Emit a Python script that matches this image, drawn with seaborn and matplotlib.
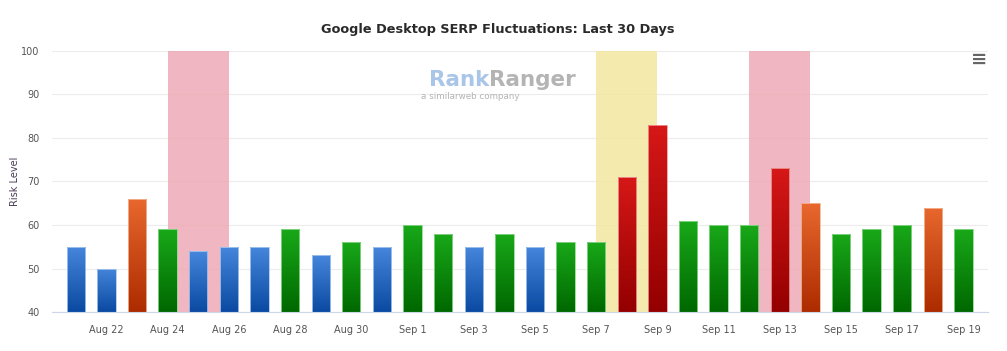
import matplotlib
matplotlib.use("Agg")
import matplotlib.pyplot as plt
from matplotlib.colors import LinearSegmentedColormap
import seaborn as sns
import pandas as pd
import numpy as np

# data
dates = pd.date_range("2023-08-21", "2023-09-19", freq="D")
day_labels = [d.strftime("%b %-d") for d in dates]
risk = [55, 50, 66, 59, 54, 55, 55, 59, 53, 56,
        55, 60, 58, 55, 58, 55, 56, 56, 71, 83,
        61, 60, 60, 73, 65, 58, 59, 60, 64, 59]
level = ["low", "low", "high", "mid", "low", "low", "low", "mid", "low", "mid",
         "low", "mid", "mid", "low", "mid", "low", "mid", "mid", "vhigh", "vhigh",
         "mid", "mid", "mid", "vhigh", "high", "mid", "mid", "mid", "high", "mid"]
# highlighted ranges (start, end index) and colour
bands = [(3, 5, "#eeaab6"), (17, 19, "#f4e7a0"), (22, 24, "#eeaab6")]

grads = {
    "low": ("#4a8ae0", "#0b4aa2"),
    "mid": ("#1aac1a", "#006800"),
    "high": ("#ea6a30", "#ac2c00"),
    "vhigh": ("#d81818", "#940000"),
}
edges = {"low": "#a9c8ee", "mid": "#8cd88c", "high": "#f2b898", "vhigh": "#ee9a9a"}

df = pd.DataFrame({"day": day_labels, "risk": risk, "level": level})

sns.set_style("white")
fig = plt.figure(figsize=(10.07, 3.51), dpi=100)
ax = fig.add_axes([0.0516, 0.111, 0.9295, 0.744])

sns.barplot(data=df, x="day", y="risk", hue="level", dodge=False, width=0.6,
            palette={k: v[0] for k, v in grads.items()}, legend=False, ax=ax)

# gradient fill for each bar, clipped to the bar shape
bars = [p for c in ax.containers for p in c]
for p in bars:
    if np.isnan(p.get_height()) or p.get_height() <= 0:
        continue
    x0, w, h = p.get_x(), p.get_width(), p.get_height()
    idx = int(round(x0 + w / 2))
    top, bot = grads[level[idx]]
    cmap = LinearSegmentedColormap.from_list("g", [bot, top])
    im = ax.imshow(np.linspace(0, 1, 100).reshape(-1, 1), cmap=cmap, origin="lower",
                   extent=[x0, x0 + w, 40, h + 1], aspect="auto", zorder=2)
    im.set_clip_path(p)
    p.set_facecolor("none")
    p.set_edgecolor(edges[level[idx]])
    p.set_linewidth(0.6)
    p.set_zorder(3)

for s, e, c in bands:
    ax.axvspan(s, e, color=c, alpha=0.85, zorder=1, lw=0)

ax.set_ylim(40, 100)
ax.set_xlim(-0.78, 29.8)

ax.set_yticks(range(40, 101, 10))
ax.set_xticks(range(1, 30, 2))
ax.set_xticklabels([day_labels[i] for i in range(1, 30, 2)])
ax.grid(axis="y", color="#ececec", lw=0.8, zorder=0)
ax.set_axisbelow(True)
for sp in ["top", "right", "left"]:
    ax.spines[sp].set_visible(False)
ax.spines["bottom"].set_color("#ccd6eb")
ax.spines["bottom"].set_zorder(4)
ax.tick_params(axis="x", length=6, color="#ccd6eb", labelsize=7, labelcolor="#555555", pad=3)
ax.tick_params(axis="y", length=0, labelsize=7, labelcolor="#555555", pad=9)
ax.set_xlabel("")
ax.set_ylabel("Risk Level", fontsize=7, color="#4a3a55")
ax.yaxis.set_label_coords(-32 / 936, 0.5)

fig.text(0.494, 0.915, "Google Desktop SERP Fluctuations: Last 30 Days", ha="center",
         va="center", fontsize=9.3, fontweight="bold", color="#2a2a2a")

# watermark logo
fig.text(0.486, 0.772, "Rank", ha="right", va="center", fontsize=15.5,
         fontweight="bold", color="#a9c5e8")
fig.text(0.486, 0.772, "Ranger", ha="left", va="center", fontsize=15.5,
         fontweight="bold", color="#b4b4b4")
fig.text(0.418, 0.724, "a similarweb company", ha="left", va="center",
         fontsize=6.3, color="#b4b4b4")

# menu icon
fig.text(0.972, 0.83, "≡", ha="center", va="center", fontsize=14,
         fontweight="bold", color="#666666")

fig.savefig("out.png", dpi=100)
